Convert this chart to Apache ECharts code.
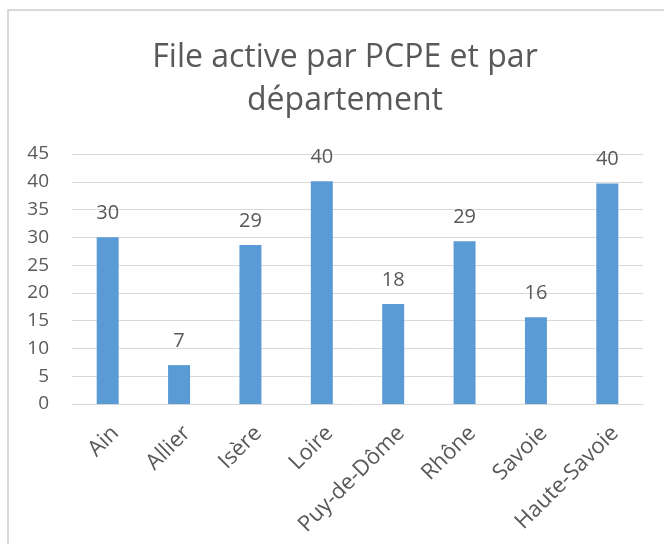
<!DOCTYPE html>
<html>
<head>
<meta charset="utf-8">
<script src="https://cdn.jsdelivr.net/npm/echarts@6/dist/echarts.min.js"></script>
<style>
  html, body { margin: 0; padding: 0; background: #fff; }
  #chart { width: 664px; height: 544px; }
</style>
</head>
<body>
<div id="chart"></div>
<script>
const departements = ['Ain', 'Allier', 'Isère', 'Loire', 'Puy-de-Dôme', 'Rhône', 'Savoie', 'Haute-Savoie']
const fileActive = [30, 7, 28.6, 40.1, 18, 29.3, 15.6, 39.7]

const textColor = '#595959'
const font = 'Open Sans'

const chart = echarts.init(document.getElementById('chart'))

chart.setOption({
  backgroundColor: '#fff',
  animation: false,
  title: {
    text: 'File active par PCPE et par\ndépartement',
    left: 340,
    top: 31,
    textAlign: 'center',
    textStyle: {
      color: textColor,
      fontFamily: font,
      fontWeight: 'normal',
      fontSize: 32,
      lineHeight: 43,
    },
  },
  graphic: [
    {
      type: 'rect',
      shape: { x: 8, y: 10, width: 700, height: 600 },
      style: { fill: 'none', stroke: '#d9d9d9', lineWidth: 2 },
      silent: true,
    },
  ],
  grid: {
    left: 72,
    right: 21,
    top: 154,
    bottom: 140,
  },
  xAxis: {
    type: 'category',
    data: departements,
    axisLine: { lineStyle: { color: '#d9d9d9', width: 1 } },
    axisTick: { show: false },
    axisLabel: {
      rotate: 45,
      interval: 0,
      margin: 18,
      align: 'right',
      verticalAlign: 'top',
      color: textColor,
      fontFamily: font,
      fontSize: 22,
    },
  },
  yAxis: {
    type: 'value',
    min: 0,
    max: 45,
    interval: 5,
    axisLine: { show: false },
    axisTick: { show: false },
    axisLabel: {
      margin: 23,
      color: textColor,
      fontFamily: font,
      fontSize: 19,
    },
    splitLine: { lineStyle: { color: '#d9d9d9', width: 1 } },
  },
  series: [
    {
      type: 'bar',
      data: fileActive,
      barWidth: 22,
      itemStyle: { color: '#5b9bd5' },
      label: {
        show: true,
        position: 'top',
        distance: 14,
        color: textColor,
        fontFamily: font,
        fontSize: 20,
        formatter: p => Math.round(p.value),
      },
    },
  ],
})
</script>
</body>
</html>
